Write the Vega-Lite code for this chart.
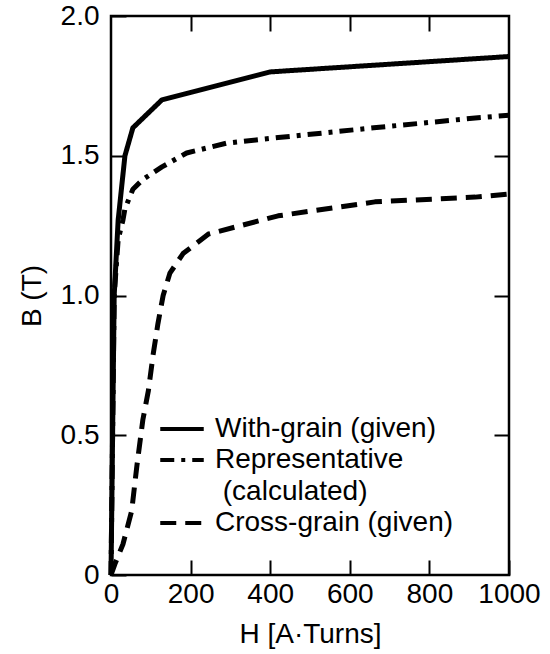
{
  "$schema": "https://vega.github.io/schema/vega-lite/v6.json",
  "width": 398,
  "height": 559,
  "autosize": {"type": "none"},
  "padding": {"left": 111, "top": 16, "right": 41, "bottom": 79},
  "background": "white",
  "config": {
    "font": "Liberation Sans",
    "view": {"stroke": "black", "strokeWidth": 2.5},
    "axis": {
      "domain": false,
      "grid": false,
      "ticks": true,
      "tickSize": -15,
      "tickWidth": 2,
      "tickColor": "black",
      "labelFontSize": 28,
      "labelColor": "black",
      "labelFont": "Liberation Sans",
      "labelFlush": false,
      "titleFont": "Liberation Sans",
      "titleFontSize": 28,
      "titleFontWeight": "normal",
      "titleColor": "black"
    }
  },
  "data": {
    "values": [
      {"series": "With-grain (given)", "H": 0, "B": 0},
      {"series": "With-grain (given)", "H": 4, "B": 0.5},
      {"series": "With-grain (given)", "H": 8, "B": 1.0},
      {"series": "With-grain (given)", "H": 18, "B": 1.27},
      {"series": "With-grain (given)", "H": 35, "B": 1.5},
      {"series": "With-grain (given)", "H": 55, "B": 1.6},
      {"series": "With-grain (given)", "H": 128, "B": 1.7},
      {"series": "With-grain (given)", "H": 400, "B": 1.8},
      {"series": "With-grain (given)", "H": 1000, "B": 1.855},
      {"series": "Representative (calculated)", "H": 0, "B": 0},
      {"series": "Representative (calculated)", "H": 4, "B": 0.5},
      {"series": "Representative (calculated)", "H": 8, "B": 1.0},
      {"series": "Representative (calculated)", "H": 18, "B": 1.2},
      {"series": "Representative (calculated)", "H": 30, "B": 1.27},
      {"series": "Representative (calculated)", "H": 35, "B": 1.31},
      {"series": "Representative (calculated)", "H": 55, "B": 1.38},
      {"series": "Representative (calculated)", "H": 80, "B": 1.415},
      {"series": "Representative (calculated)", "H": 128, "B": 1.46},
      {"series": "Representative (calculated)", "H": 190, "B": 1.51},
      {"series": "Representative (calculated)", "H": 290, "B": 1.545},
      {"series": "Representative (calculated)", "H": 420, "B": 1.565},
      {"series": "Representative (calculated)", "H": 660, "B": 1.6},
      {"series": "Representative (calculated)", "H": 915, "B": 1.635},
      {"series": "Representative (calculated)", "H": 1000, "B": 1.645},
      {"series": "Cross-grain (given)", "H": 0, "B": 0},
      {"series": "Cross-grain (given)", "H": 10, "B": 0.04},
      {"series": "Cross-grain (given)", "H": 30, "B": 0.11},
      {"series": "Cross-grain (given)", "H": 52, "B": 0.23},
      {"series": "Cross-grain (given)", "H": 65, "B": 0.39},
      {"series": "Cross-grain (given)", "H": 80, "B": 0.555},
      {"series": "Cross-grain (given)", "H": 94, "B": 0.66},
      {"series": "Cross-grain (given)", "H": 106, "B": 0.79},
      {"series": "Cross-grain (given)", "H": 118, "B": 0.9},
      {"series": "Cross-grain (given)", "H": 131, "B": 1.0},
      {"series": "Cross-grain (given)", "H": 148, "B": 1.08},
      {"series": "Cross-grain (given)", "H": 181, "B": 1.15},
      {"series": "Cross-grain (given)", "H": 245, "B": 1.22},
      {"series": "Cross-grain (given)", "H": 420, "B": 1.285},
      {"series": "Cross-grain (given)", "H": 663, "B": 1.335},
      {"series": "Cross-grain (given)", "H": 915, "B": 1.352},
      {"series": "Cross-grain (given)", "H": 1000, "B": 1.363}
    ]
  },
  "layer": [
    {
      "mark": {"type": "line", "color": "black", "strokeWidth": 5, "strokeCap": "butt", "strokeJoin": "round"},
      "encoding": {
        "x": {
          "field": "H", "type": "quantitative",
          "scale": {"domain": [0, 1000], "nice": false},
          "axis": {"orient": "bottom", "values": [0, 200, 400, 600, 800, 1000], "format": "d", "labelPadding": 20, "title": "H [A·Turns]", "titlePadding": 12}
        },
        "y": {
          "field": "B", "type": "quantitative",
          "scale": {"domain": [0, 2], "nice": false},
          "axis": {"orient": "left", "values": [0, 0.5, 1, 1.5, 2], "labelExpr": "datum.value == 0 ? '0' : format(datum.value, '.1f')", "labelPadding": 27, "title": "B (T)", "titlePadding": 14}
        },
        "strokeDash": {
          "field": "series", "type": "nominal",
          "scale": {
            "domain": ["With-grain (given)", "Representative (calculated)", "Cross-grain (given)"],
            "range": [[1, 0], [14, 7, 4, 7], [16, 9]]
          },
          "legend": {
            "title": null,
            "orient": "none",
            "legendX": 54,
            "legendY": 396,
            "symbolType": "M-1.45,0H1.45",
            "symbolSize": 900,
            "symbolStrokeWidth": 4,
            "symbolStrokeColor": "black",
            "symbolFillColor": "transparent",
            "labelFontSize": 28,
            "labelColor": "black",
            "labelFont": "Liberation Sans",
            "labelOffset": 16,
            "labelLimit": 400,
            "rowPadding": 0,
            "labelExpr": "datum.label == 'Representative (calculated)' ? ['Representative', '\u200b\u00a0(calculated)'] : datum.label",
            "encode": {
              "labels": {"update": {"lineHeight": {"value": 32}}}
            }
          }
        }
      }
    },
    {
      "mark": {"type": "line", "opacity": 0},
      "encoding": {
        "x": {
          "field": "H", "type": "quantitative",
          "axis": {"orient": "top", "values": [200, 400, 600, 800], "labels": false, "title": null}
        },
        "y": {
          "field": "B", "type": "quantitative",
          "axis": {"orient": "right", "values": [0.5, 1, 1.5], "labels": false, "title": null}
        },
        "detail": {"field": "series"}
      }
    }
  ],
  "resolve": {"axis": {"x": "independent", "y": "independent"}}
}
